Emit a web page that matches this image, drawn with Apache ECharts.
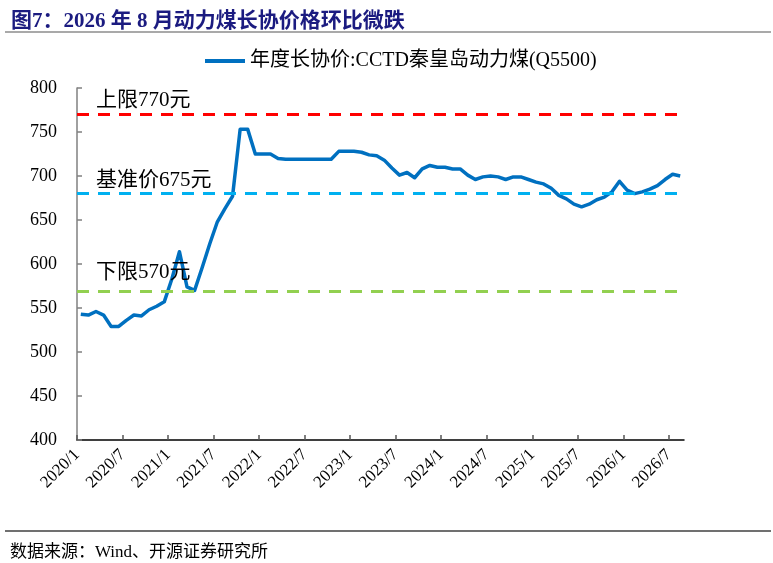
<!DOCTYPE html>
<html><head><meta charset="utf-8">
<script src="https://cdn.jsdelivr.net/npm/echarts@6/dist/echarts.min.js"></script>
<style>html,body{margin:0;padding:0;background:#fff}#c{width:773px;height:563px}</style>
</head><body><div id="c"></div>
<script>
// Monthly categories 2020/1 .. 2026/8
const months = [
  '2020/1','2020/2','2020/3','2020/4','2020/5','2020/6','2020/7','2020/8','2020/9','2020/10','2020/11','2020/12',
  '2021/1','2021/2','2021/3','2021/4','2021/5','2021/6','2021/7','2021/8','2021/9','2021/10','2021/11','2021/12',
  '2022/1','2022/2','2022/3','2022/4','2022/5','2022/6','2022/7','2022/8','2022/9','2022/10','2022/11','2022/12',
  '2023/1','2023/2','2023/3','2023/4','2023/5','2023/6','2023/7','2023/8','2023/9','2023/10','2023/11','2023/12',
  '2024/1','2024/2','2024/3','2024/4','2024/5','2024/6','2024/7','2024/8','2024/9','2024/10','2024/11','2024/12',
  '2025/1','2025/2','2025/3','2025/4','2025/5','2025/6','2025/7','2025/8','2025/9','2025/10','2025/11','2025/12',
  '2026/1','2026/2','2026/3','2026/4','2026/5','2026/6','2026/7','2026/8'
];
// tick boundaries (one more than months: ticks sit on month starts)
const tickLabels = months.concat(['2026/9']);

// 年度长协价:CCTD秦皇岛动力煤(Q5500), 元/吨
const price = [
  543, 542, 546, 542, 529, 529, 536, 542, 541, 548, 552, 557,
  583, 614, 574, 570, 596, 623, 648, 663, 677, 753, 753, 725,
  725, 725, 720, 719, 719, 719, 719, 719, 719, 719, 728, 728,
  728, 727, 724, 723, 718, 709, 701, 704, 698, 708, 712, 710,
  710, 708, 708, 701, 696, 699, 700, 699, 696, 699, 699, 696,
  693, 691, 686, 678, 674, 668, 665, 668, 673, 676, 682, 694,
  684, 680, 682, 685, 689, 696, 702, 700
];

const levelNames = ['上限770元', '基准价675元', '下限570元'];
const levelValues = [770, 680, 569];
const levelColors = ['#FF0000', '#00B0F0', '#92D050'];
const levelLift = [3, 3, 8];

const yTicks = { min: 400, max: 800, interval: 50 };
const seriesName = '年度长协价:CCTD秦皇岛动力煤(Q5500)';
const titleText = '图7：2026 年 8 月动力煤长协价格环比微跌';
const sourceText = '数据来源：Wind、开源证券研究所';

const SERIF = "'Liberation Serif','Times New Roman','Noto Sans CJK SC',serif";

const chart = echarts.init(document.getElementById('c'), null, { renderer: 'canvas' });

const markData = levelValues.map((v, k) => ({
  yAxis: v,
  lineStyle: { color: levelColors[k], type: [12, 9], width: 3 },
  label: {
    show: true,
    formatter: levelNames[k],
    position: 'insideStartTop',
    distance: [19, levelLift[k]],
    color: '#000',
    fontSize: 21,
    fontFamily: SERIF
  }
}));

chart.setOption({
  animation: false,
  backgroundColor: '#fff',
  title: [
    {
      text: titleText, left: 6, top: 6,
      textStyle: { fontSize: 21, fontWeight: 'bold', color: '#1B1B80', fontFamily: SERIF }
    },
    {
      text: sourceText, left: 5, top: 539,
      textStyle: { fontSize: 17, fontWeight: 'normal', color: '#000', fontFamily: SERIF }
    }
  ],
  graphic: [
    { type: 'line', shape: { x1: 5, y1: 32, x2: 771, y2: 32 }, style: { stroke: '#8c8c8c', lineWidth: 1.5 } },
    { type: 'line', shape: { x1: 5, y1: 531, x2: 771, y2: 531 }, style: { stroke: '#404040', lineWidth: 1.5 } }
  ],
  legend: {
    left: 200, top: 46,
    icon: 'rect', itemWidth: 40, itemHeight: 4,
    textStyle: { fontSize: 20, color: '#000', fontFamily: SERIF },
    data: [seriesName]
  },
  grid: { left: 77, right: 89, top: 88, bottom: 123, containLabel: false },
  xAxis: [
    {
      type: 'category', data: months, boundaryGap: true, position: 'bottom',
      axisLine: { show: false }, axisTick: { show: false }, axisLabel: { show: false }, splitLine: { show: false }
    },
    {
      type: 'category', data: tickLabels, boundaryGap: false, position: 'bottom',
      axisLine: { show: true, lineStyle: { color: '#000', width: 1.5 } },
      axisTick: { show: true, inside: true, length: 5, interval: 5, lineStyle: { color: '#555', width: 1.5 } },
      axisLabel: { interval: 5, rotate: 45, margin: 12, fontSize: 17, color: '#000', fontFamily: SERIF },
      splitLine: { show: false }
    }
  ],
  yAxis: {
    type: 'value', min: yTicks.min, max: yTicks.max, interval: yTicks.interval,
    axisLine: { show: true, lineStyle: { color: '#808080', width: 1.5 } },
    axisTick: { show: true, inside: true, length: 5, lineStyle: { color: '#808080', width: 1.5 } },
    axisLabel: { margin: 20, fontSize: 18, color: '#000', fontFamily: SERIF },
    splitLine: { show: false }
  },
  series: [{
    name: seriesName, type: 'line', xAxisIndex: 0, data: price,
    symbol: 'none', smooth: false,
    lineStyle: { color: '#0070C0', width: 3.5, join: 'round' },
    itemStyle: { color: '#0070C0' },
    markLine: { silent: true, symbol: 'none', data: markData, animation: false }
  }]
});
</script>
</body></html>
